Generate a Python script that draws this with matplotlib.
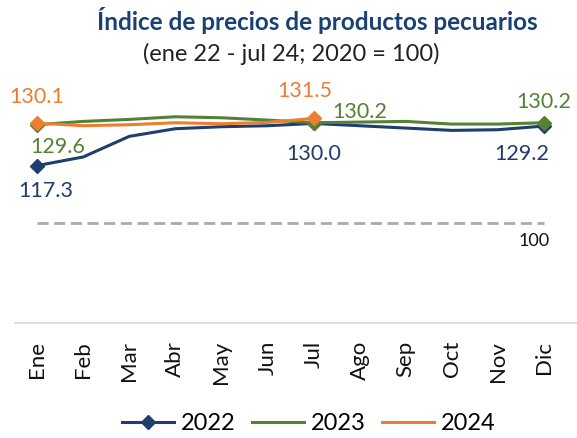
import matplotlib.pyplot as plt

months = ['Ene', 'Feb', 'Mar', 'Abr', 'May', 'Jun', 'Jul', 'Ago', 'Sep', 'Oct', 'Nov', 'Dic']
v2022 = [117.3, 119.9, 126.1, 128.4, 129.0, 129.3, 130.0, 129.3, 128.6, 127.9, 128.1, 129.2]
v2023 = [129.6, 130.6, 131.2, 132.0, 131.7, 131.0, 130.2, 130.4, 130.6, 129.8, 129.8, 130.2]
v2024 = [130.1, 129.3, 129.6, 130.2, 129.9, 130.3, 131.5]
base = 100

BLUE = '#1f3d6e'
GREEN = '#548235'
ORANGE = '#ed7d31'

plt.rcParams['font.family'] = ['Lato', 'DejaVu Sans']

fig = plt.figure(figsize=(5.77, 4.38), dpi=100)
ax = fig.add_axes([0.026, 0.263, 0.974, 0.607])

x = list(range(len(months)))
ax.hlines(base, 0, 11, colors='#aaaaaa', linestyles=(0, (4, 2)), linewidth=2)
ax.plot(x, v2022, color=BLUE, lw=2.2, marker='D', ms=7, markevery=[0, 6, 11], label='2022')
ax.plot(x, v2023, color=GREEN, lw=2.2, marker='D', ms=7, markevery=[0, 6, 11], label='2023')
ax.plot(x[:len(v2024)], v2024, color=ORANGE, lw=2.2, marker='D', ms=7, markevery=[0, 6], label='2024')

def lab(i, v, dx, dy, c):
    ax.annotate(f'{v:.1f}', (i, v), xytext=(dx, dy), textcoords='offset points',
                ha='center', va='center', color=c, fontsize=15.5)

lab(0, v2024[0], 0, 19, ORANGE)
lab(0, v2023[0], 15, -16, GREEN)
lab(0, v2022[0], 6, -18, BLUE)
lab(6, v2024[6], -6, 20, ORANGE)
lab(6, v2023[6], 33, 8, GREEN)
lab(6, v2022[6], 0, -22, BLUE)
lab(11, v2023[11], 0, 15, GREEN)
lab(11, v2022[11], -16, -20, BLUE)
ax.annotate('100', (11, base), xytext=(-7, -13), textcoords='offset points',
            ha='center', va='center', fontsize=13, color='#111111')

ax.set_xlim(-0.48, 11.72)
ax.set_ylim(70, 150)
ax.set_yticks([])
ax.set_xticks(x)
ax.set_xticklabels(months, rotation=90, fontsize=16, color='#111111')
ax.tick_params(axis='x', length=0, pad=13)
for s in ['top', 'right', 'left']:
    ax.spines[s].set_visible(False)
ax.spines['bottom'].set_color('#d9d9d9')
ax.spines['bottom'].set_linewidth(1.2)

h, l = ax.get_legend_handles_labels()
leg = fig.legend(h, l, loc='center', bbox_to_anchor=(0.535, 0.033), ncol=3, frameon=False,
                 fontsize=17, handlelength=2.2, columnspacing=0.7, handletextpad=0.3)
for lh in leg.legend_handles[1:]:
    lh.set_marker('None')

fig.text(0.55, 0.954, 'Índice de precios de productos pecuarios', ha='center', va='center',
         fontsize=17.5, fontweight='bold', color='#1a4173')
fig.text(0.505, 0.877, '(ene 22 - jul 24; 2020 = 100)', ha='center', va='center',
         fontsize=17, color='#222222')

fig.savefig('out.png', dpi=100)
